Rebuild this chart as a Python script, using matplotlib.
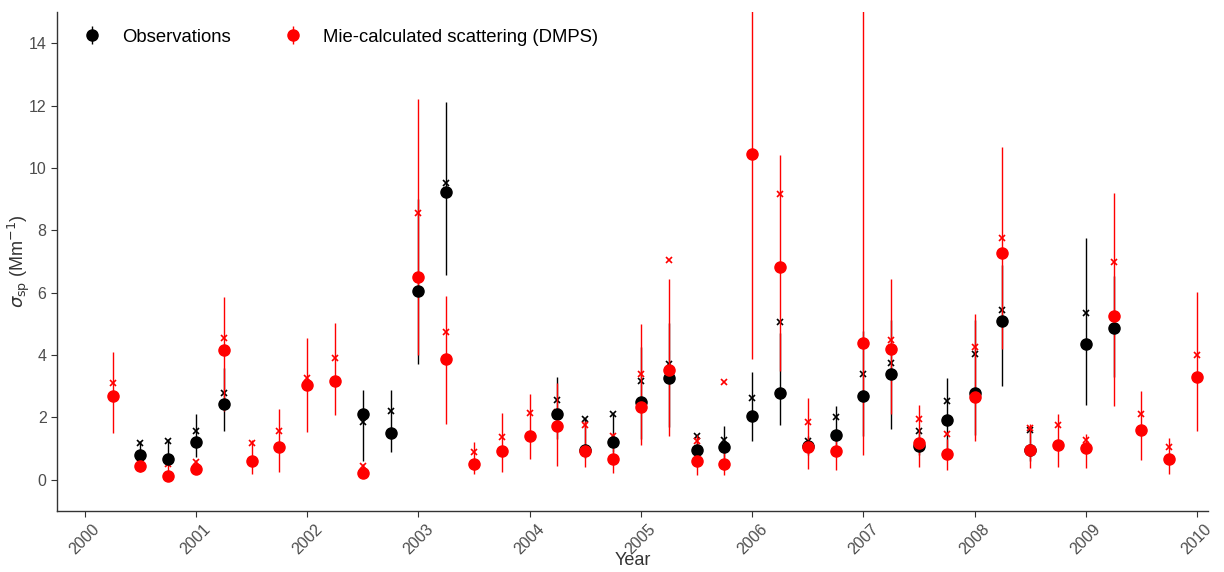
import matplotlib
matplotlib.use("Agg")
import matplotlib.pyplot as plt
import numpy as np

plt.rcParams['font.family'] = ['Liberation Sans', 'DejaVu Sans']

nan = np.nan

# quarterly time axis, 2000.25 ... 2010.0
years = np.arange(2000.25, 2010.01, 0.25)

# observations: median, mean, lower and upper bound
obs_med = [nan, 0.79, 0.68, 1.22, 2.44, nan, nan, nan, nan, 2.10,
           1.50, 6.07, 9.24, nan, nan, nan, 2.12, 0.95, 1.21, 2.51,
           3.25, 0.97, 1.04, 2.06, 2.80, 1.10, 1.43, 2.70, 3.40, 1.09,
           1.91, 2.80, 5.08, 0.97, nan, 4.35, 4.86, nan, nan, nan]
obs_mean = [nan, 1.18, 1.24, 1.57, 2.78, nan, nan, nan, nan, 1.87,
            2.22, 6.45, 9.53, nan, nan, nan, 2.57, 1.94, 2.10, 3.17,
            3.73, 1.41, 1.29, 2.63, 5.07, 1.23, 2.00, 3.40, 3.75, 1.57,
            2.54, 4.04, 5.43, 1.60, nan, 5.34, 5.20, nan, nan, nan]
obs_low = [nan, 0.55, 0.50, 0.74, 1.57, nan, nan, nan, nan, 0.61,
           0.90, 3.70, 6.57, nan, nan, nan, 1.31, 0.70, 0.90, 1.30,
           1.68, 0.70, 0.70, 1.23, 1.77, 0.80, 0.90, 1.41, 1.63, 0.80,
           1.00, 1.45, 3.00, 0.60, nan, 2.40, 3.29, nan, nan, nan]
obs_high = [nan, 1.25, 1.30, 2.11, 3.60, nan, nan, nan, nan, 2.89,
            2.89, 9.00, 12.12, nan, nan, nan, 3.31, 1.98, 2.13, 4.25,
            5.03, 1.45, 1.73, 3.47, 4.71, 1.40, 2.38, 4.78, 5.11, 1.60,
            3.28, 5.11, 6.90, 1.70, nan, 7.76, 6.53, nan, nan, nan]

# Mie-calculated scattering from DMPS
mie_med = [2.70, 0.44, 0.12, 0.34, 4.16, 0.60, 1.04, 3.04, 3.17, 0.21,
           nan, 6.49, 3.86, 0.52, 0.93, 1.40, 1.72, 0.93, 0.68, 2.34,
           3.52, 0.59, 0.52, 10.45, 6.82, 1.06, 0.93, 4.38, 4.18, 1.18,
           0.83, 2.64, 7.28, 0.97, 1.13, 1.02, 5.26, 1.61, 0.68, 3.29]
mie_mean = [3.09, 0.70, 0.52, 0.56, 4.55, 1.17, 1.56, 3.25, 3.90, 0.43,
            nan, 8.55, 4.74, 0.88, 1.38, 2.13, 2.19, 1.77, 1.41, 3.38,
            7.06, 1.25, 3.15, nan, 9.17, 1.86, 1.36, nan, 4.49, 1.96,
            1.46, 4.25, 7.76, 1.65, 1.76, 1.28, 7.00, 2.11, 1.05, 4.01]
mie_low = [1.49, 0.25, 0.05, 0.20, 2.20, 0.20, 0.25, 1.53, 2.08, 0.15,
           nan, 4.00, 1.79, 0.18, 0.25, 0.68, 0.44, 0.42, 0.21, 1.12,
           1.41, 0.16, 0.16, 3.87, 3.50, 0.34, 0.32, 0.79, 2.11, 0.42,
           0.31, 1.23, 4.20, 0.38, 0.42, 0.38, 2.36, 0.64, 0.20, 1.56]
mie_high = [4.11, 0.80, 0.60, 0.65, 5.85, 1.28, 2.28, 4.55, 5.02, 0.50,
            nan, 12.22, 5.88, 1.21, 2.15, 2.74, 3.12, 1.90, 1.50, 5.01,
            6.44, 1.45, 1.10, 17.0, 10.43, 2.61, 1.50, 16.0, 6.44, 2.40,
            1.30, 5.32, 10.67, 1.79, 2.11, 1.47, 9.21, 2.86, 1.35, 6.03]

year_ticks = list(range(2000, 2011))


def draw_series(ax, med, mean, low, high, color, label):
    med = np.array(med)
    err = [med - np.array(low), np.array(high) - med]
    h = ax.errorbar(years, med, yerr=err, fmt='o', color=color, ms=8,
                    elinewidth=1.0, capsize=0, label=label)
    ax.plot(years, mean, 'x', color=color, ms=4, mew=1.2)
    return h


fig = plt.figure(figsize=(12.24, 5.72), dpi=100)
ax = fig.add_axes([0.0466, 0.1066, 0.9404, 0.8724])

h1 = draw_series(ax, obs_med, obs_mean, obs_low, obs_high, 'black', 'Observations')
h2 = draw_series(ax, mie_med, mie_mean, mie_low, mie_high, 'red',
                 'Mie-calculated scattering (DMPS)')

ax.set_xlim(1999.75, 2010.1)
ax.set_ylim(-1, 15)
ax.set_xticks(year_ticks)
ax.set_xticklabels([str(y) for y in year_ticks], rotation=45)
ax.set_yticks(range(0, 15, 2))
ax.tick_params(axis='both', colors='#333333', labelcolor='#4d4d4d',
               labelsize=11.5, length=4, direction='out')

for side in ['top', 'right']:
    ax.spines[side].set_visible(False)
for side in ['left', 'bottom']:
    ax.spines[side].set_color('#333333')
    ax.spines[side].set_linewidth(1.0)

ax.set_xlabel('Year', fontsize=13, color='#333333')
ax.set_ylabel(r'$\sigma_{\mathrm{sp}}$ (Mm$^{-1}$)', fontsize=13, color='#333333')
ax.xaxis.set_label_coords(0.5, -0.083)
ax.yaxis.set_label_coords(-0.022, 0.5)

ax.legend(handles=[h1, h2], loc='upper left', ncol=2, frameon=False,
          fontsize=13.3, handletextpad=0.6, columnspacing=2.4,
          bbox_to_anchor=(0.0, 1.0))

fig.savefig('out.png', dpi=100)
